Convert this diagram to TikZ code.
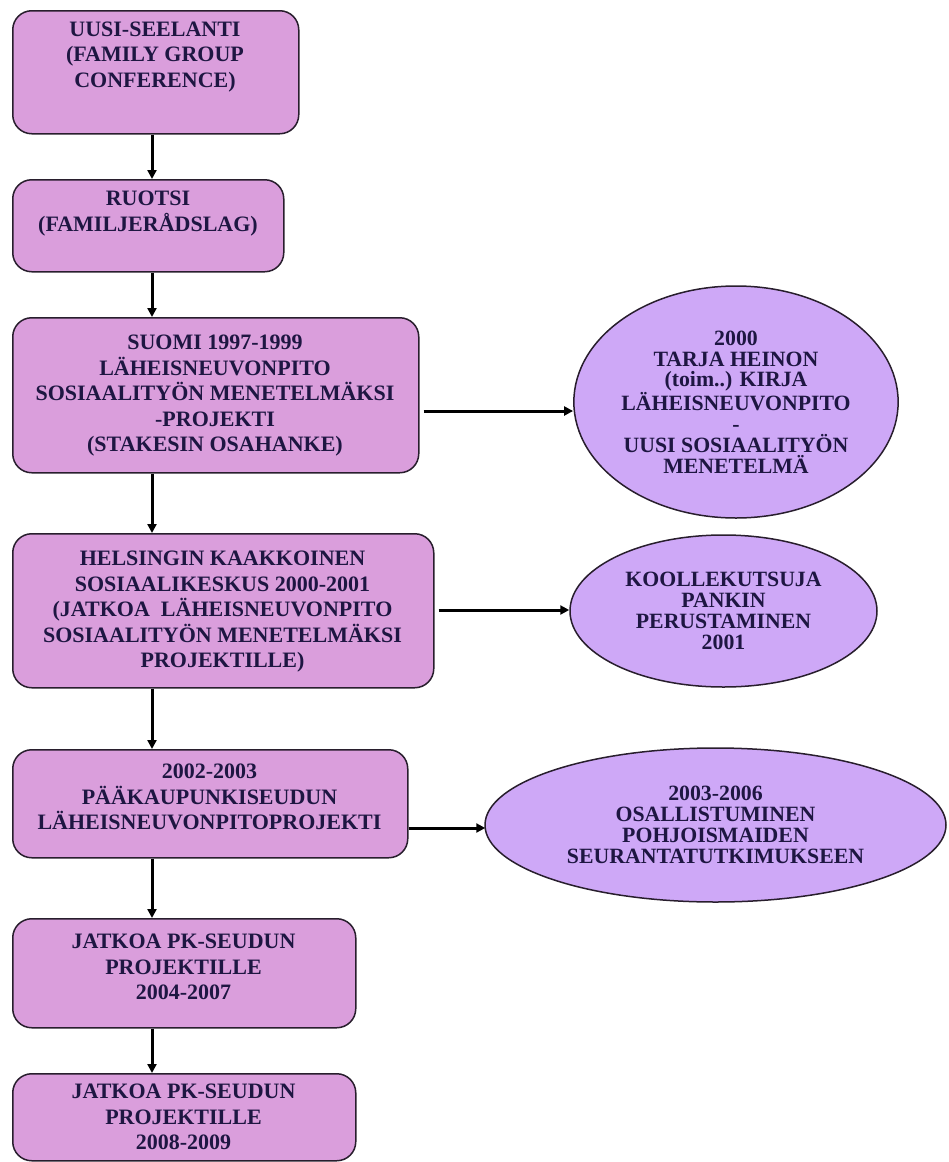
\documentclass[tikz,border=0pt]{standalone}
\usepackage{fontspec}
\setmainfont{Liberation Serif}
\usetikzlibrary{arrows.meta,shapes.geometric}
\definecolor{boxfill}{RGB}{218,158,220}
\definecolor{ellfill}{RGB}{206,168,247}
\definecolor{edge}{RGB}{40,30,45}
\definecolor{ink}{RGB}{30,22,66}
\tikzset{
  box/.style={draw=edge, line width=1.5pt, fill=boxfill, rounded corners=19pt, inner sep=0pt, anchor=north west},
  ell/.style={draw=edge, line width=1.5pt, fill=ellfill, ellipse, inner sep=0pt, text=ink, align=center,
     font=\fontsize{21.8}{20.8}\selectfont\bfseries},
  txt/.style={text=ink, align=center, inner sep=0pt, font=\fontsize{22}{25.5}\selectfont\bfseries},
  arr/.style={draw=black, line width=3pt, -{Triangle[length=9pt,width=9pt]}}
}
\begin{document}
\begin{tikzpicture}[x=1pt,y=-1pt]
\useasboundingbox (0,0) rectangle (949,1162);
\fill[white] (0,0) rectangle (949,1162);
% boxes
\node[box, minimum width=286pt, minimum height=123pt] (b1) at (12,10) {};
\node[box, minimum width=271pt, minimum height=92pt] (b2) at (12,179) {};
\node[box, minimum width=406pt, minimum height=155pt] (b3) at (12,317) {};
\node[box, minimum width=421pt, minimum height=154pt] (b4) at (12,533) {};
\node[box, minimum width=395pt, minimum height=108pt] (b5) at (12,749) {};
\node[box, minimum width=343pt, minimum height=109pt] (b6) at (12,918) {};
\node[box, minimum width=343pt, minimum height=87pt] (b7) at (12,1073) {};
% box texts
\node[txt] (t1) at (155,57) {UUSI-SEELANTI\\(FAMILY GROUP\\CONFERENCE)};
\node[txt] (t2) at (148,213.5) {RUOTSI\\(FAMILJERÅDSLAG)};
\node[txt] (t3) at (215,396) {SUOMI 1997-1999\\LÄHEISNEUVONPITO\\SOSIAALITYÖN MENETELMÄKSI\\-PROJEKTI\\(STAKESIN OSAHANKE)};
\node[txt] (t4) at (222.5,612) {HELSINGIN KAAKKOINEN\\SOSIAALIKESKUS 2000-2001\\(JATKOA\ \ LÄHEISNEUVONPITO\\SOSIAALITYÖN MENETELMÄKSI\\PROJEKTILLE)};
\node[txt] (t5) at (209.5,797) {2002-2003\\PÄÄKAUPUNKISEUDUN\\LÄHEISNEUVONPITOPROJEKTI};
\node[txt] (t6) at (183.5,967) {JATKOA PK-SEUDUN\\PROJEKTILLE\\2004-2007};
\node[txt] (t7) at (183.5,1117) {JATKOA PK-SEUDUN\\PROJEKTILLE\\2008-2009};
% ellipses
\node[ell, minimum width=322pt, minimum height=232pt] (e1) at (736,402) {2000\\TARJA HEINON\\(toim..) KIRJA\\LÄHEISNEUVONPITO\\-\\UUSI SOSIAALITYÖN\\MENETELMÄ};
\node[ell, minimum width=307pt, minimum height=152pt] (e2) at (723.5,611) {KOOLLEKUTSUJA\\PANKIN\\PERUSTAMINEN\\2001};
\node[ell, minimum width=461pt, minimum height=154pt] (e3) at (715.5,825) {2003-2006\\OSALLISTUMINEN\\POHJOISMAIDEN\\SEURANTATUTKIMUKSEEN};
% connector guides
\coordinate (ax) at (152,0);
\coordinate (h1) at (0,411);
\coordinate (h2) at (0,610);
\coordinate (h3) at (0,828);
% vertical arrows
\draw[arr] (b1.south -| ax) -- (b2.north -| ax);
\draw[arr] (b2.south -| ax) -- (b3.north -| ax);
\draw[arr] (b3.south -| ax) -- (b4.north -| ax);
\draw[arr] (b4.south -| ax) -- (b5.north -| ax);
\draw[arr] (b5.south -| ax) -- (b6.north -| ax);
\draw[arr] (b6.south -| ax) -- (b7.north -| ax);
% horizontal arrows
\draw[arr] ([xshift=4pt]b3.east |- h1) -- (e1.west |- h1);
\draw[arr] ([xshift=4pt]b4.east |- h2) -- (e2.west |- h2);
\draw[arr] (b5.east |- h3) -- ([xshift=1pt]e3.west |- h3);
\end{tikzpicture}
\end{document}
